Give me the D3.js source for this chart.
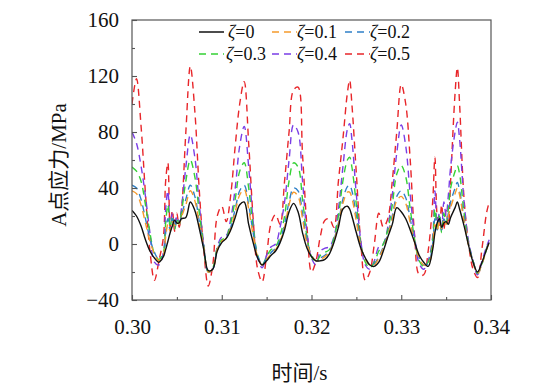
<!DOCTYPE html>
<html>
<head>
<meta charset="utf-8">
<script src="https://cdn.jsdelivr.net/npm/d3@7"></script>
<style>
  html, body { margin: 0; padding: 0; background: #fff; }
  svg text { font-family: "Liberation Serif", "Times New Roman", Times, "DejaVu Serif", "Noto Sans CJK SC", serif; fill: #111; }
</style>
</head>
<body>
<svg id="chart" width="534" height="390"></svg>
<script>
// ---- data (time in s, stress in MPa) ----
const time = [0.3000,0.3005,0.3010,0.3015,0.3020,0.3025,0.3030,0.3035,0.30375,0.3040,0.30425,0.3045,0.30475,0.3050,0.30525,0.3055,
  0.3060,0.3065,0.3070,0.3075,0.3080,0.3085,0.3090,0.3095,0.3100,0.3105,0.3110,0.3115,0.3120,0.3125,0.3130,0.3135,0.3140,0.3145,
  0.3150,0.3155,0.3160,0.3165,0.3170,0.3175,0.3180,0.3185,0.3190,0.3195,0.3200,0.3205,0.3210,0.3215,0.3220,0.3225,0.3230,0.3235,
  0.3240,0.32425,0.3245,0.3250,0.3255,0.3260,0.3265,0.3270,0.3275,0.3280,0.3285,0.3290,0.3295,0.3300,0.3305,0.3310,0.3315,0.3320,
  0.3325,0.3330,0.3335,0.33375,0.3340,0.33425,0.3345,0.33475,0.3350,0.33525,0.3355,0.3360,0.33625,0.3365,0.3370,0.3375,0.3380,
  0.3385,0.3390,0.3395,0.3398];

const zeta0 = [24,20,13,3,-5,-10,-13,-9,-4,2,8,13,17,15,15,18,
  19,30,24,11,-4,-19,-18,-5,1,4,10,19,28,30,14,1,-10,-15,
  -12,-8,-5,1,10,23,29,23,8,-3,-9,-12,-12,-11,-7,1,12,25,
  27,25,20,8,-3,-10,-15,-16,-13,-5,5,14,26,23,18,10,1,-8,
  -13,-16,-4,8,15,18,12,15,16,14,19,26,30,25,13,-1,-13,
  -20,-13,-4,1];
const zeta01 = [38,36,28,15,2,-7,-12,-8,5,14,9,16,13,16,14,19,
  28,38,31,14,-3,-20,-18,-4,2,4,11,23,35,39,25,6,-9,-15,
  -11,-7,-4,2,12,28,37,34,18,0,-8,-12,-11,-9,-6,2,14,29,
  37,37,33,16,-2,-11,-15,-15,-10,-3,6,18,31,34,29,15,1,-10,
  -15,-15,-2,14,9,17,11,16,14,20,26,36,40,35,16,-1,-13,
  -21,-14,-4,1];
const zeta02 = [42,40,32,18,4,-6,-11,-8,8,18,10,18,12,17,14,20,
  32,42,34,16,-3,-20,-18,-4,2,4,12,25,38,42,28,8,-8,-15,
  -10,-6,-3,3,14,30,40,38,22,2,-8,-12,-10,-8,-5,3,15,32,
  41,42,38,20,-1,-11,-15,-14,-9,-2,7,20,34,38,33,18,2,-10,
  -15,-14,0,18,10,18,10,18,15,22,30,40,44,38,18,0,-12,
  -21,-14,-3,2];
const zeta03 = [55,52,45,28,8,-7,-11,-6,15,28,12,20,10,18,14,22,
  45,60,48,22,-2,-20,-17,-3,3,5,15,32,52,58,40,12,-8,-15,
  -9,-4,-2,6,20,45,58,55,32,5,-9,-13,-8,-6,-4,4,20,45,
  60,62,55,28,0,-13,-17,-13,-5,0,10,28,50,56,48,25,3,-12,
  -16,-13,2,25,12,20,8,22,15,25,40,52,56,50,22,0,-12,
  -21,-14,-4,1];
const zeta04 = [80,72,56,34,8,-13,-15,-6,25,38,14,22,12,20,15,25,
  55,78,62,28,0,-20,-18,-2,5,6,18,40,70,84,55,16,-10,-17,
  -8,-2,0,12,30,60,85,80,45,8,-10,-15,-5,-3,-2,5,25,55,
  82,86,75,35,2,-15,-18,-12,-2,0,12,35,65,85,70,35,5,-14,
  -18,-12,5,38,15,22,10,30,20,35,55,80,87,75,30,2,-12,
  -22,-12,-2,3];
const zeta05 = [100,118,85,36,-5,-26,-12,5,45,58,12,24,9,22,12,22,
  80,127,95,38,-5,-30,-15,20,27,16,35,70,100,116,72,18,-18,-27,
  -8,15,21,14,45,80,110,112,64,12,-20,-12,6,17,18,12,45,75,
  108,117,100,50,0,-26,-20,0,22,12,18,45,80,114,100,60,5,-22,
  -22,-5,30,62,20,12,28,10,24,14,45,108,126,100,32,0,-18,
  -24,-3,22,30];

const seriesNames = ["\u03B6=0","\u03B6=0.1","\u03B6=0.2","\u03B6=0.3","\u03B6=0.4","\u03B6=0.5"];
const xTicks = [0.30,0.31,0.32,0.33,0.34];
const xMinor = [0.305,0.315,0.325,0.335];
const yTicks = [-40,0,40,80,120,160];
const yMinor = [-20,20,60,100,140];

// ---- layout ----
const FONT = '"Liberation Serif", "Times New Roman", Times, "DejaVu Serif", "Noto Sans CJK SC", serif';
const svg = d3.select("#chart");
const L = 132, R = 491, T = 20, B = 300;
const x = d3.scaleLinear().domain([0.30, 0.34]).range([L, R]);
const y = d3.scaleLinear().domain([-40, 160]).range([B, T]);

const series = [
  {name: seriesNames[5], values: zeta05, color: "#e8262a", dash: "7,5"},
  {name: seriesNames[4], values: zeta04, color: "#7a3ee6", dash: "7,5"},
  {name: seriesNames[3], values: zeta03, color: "#35d135", dash: "7,5"},
  {name: seriesNames[2], values: zeta02, color: "#2f80c8", dash: "7,5"},
  {name: seriesNames[1], values: zeta01, color: "#f59a2c", dash: "7,5"},
  {name: seriesNames[0], values: zeta0,  color: "#111111", dash: null}
];

svg.append("defs").append("clipPath").attr("id", "clip")
  .append("rect").attr("x", L).attr("y", T).attr("width", R - L).attr("height", B - T);

const line = d3.line()
  .x((d, i) => x(time[i]))
  .y(d => y(d))
  .curve(d3.curveCatmullRom.alpha(0.5));

const gLines = svg.append("g").attr("clip-path", "url(#clip)");
series.forEach(s => {
  gLines.append("path")
    .datum(s.values)
    .attr("d", line)
    .attr("fill", "none")
    .attr("stroke", s.color)
    .attr("stroke-width", 1.4)
    .attr("stroke-dasharray", s.dash);
});

// frame
svg.append("rect").attr("x", L).attr("y", T).attr("width", R - L).attr("height", B - T)
  .attr("fill", "none").attr("stroke", "#555").attr("stroke-width", 1.2);

// axes
const fontSize = 21;
const xAxis = svg.append("g").attr("transform", `translate(0,${B})`)
  .call(d3.axisBottom(x).tickValues(xTicks).tickSize(-5).tickPadding(19).tickFormat(d3.format(".2f")));
const xAxisMinor = svg.append("g").attr("transform", `translate(0,${B})`)
  .call(d3.axisBottom(x).tickValues(xMinor).tickSize(-3).tickFormat(""));
const yAxis = svg.append("g").attr("transform", `translate(${L},0)`)
  .call(d3.axisLeft(y).tickValues(yTicks).tickSize(-5).tickPadding(13));
const yAxisMinor = svg.append("g").attr("transform", `translate(${L},0)`)
  .call(d3.axisLeft(y).tickValues(yMinor).tickSize(-3).tickFormat(""));

[xAxis, xAxisMinor, yAxis, yAxisMinor].forEach(g => {
  g.attr("font-family", null);
  g.select(".domain").remove();
  g.selectAll(".tick line").attr("stroke", "#555").attr("stroke-width", 1.1);
  g.selectAll(".tick text")
    .style("font-family", FONT)
    .style("font-size", fontSize + "px")
    .attr("fill", "#111");
});
xAxis.selectAll(".tick text").attr("dy", "0.7em").attr("y", 19);

// axis titles
svg.append("text")
  .attr("x", (L + R) / 2 - 12).attr("y", 380)
  .attr("text-anchor", "middle")
  .style("font-family", FONT)
  .style("font-size", "21px")
  .text("时间/s");
svg.append("text")
  .attr("transform", `translate(66,${(T + B) / 2 + 5}) rotate(-90)`)
  .attr("text-anchor", "middle")
  .style("font-family", FONT)
  .style("font-size", "21px")
  .text("A点应力/MPa");

// legend
const legendItems = [
  {s: series[5], lx: 199, tx: 228, ly: 32},
  {s: series[4], lx: 272, tx: 297, ly: 32},
  {s: series[3], lx: 345, tx: 370, ly: 32},
  {s: series[2], lx: 199, tx: 226, ly: 54},
  {s: series[1], lx: 272, tx: 297, ly: 54},
  {s: series[0], lx: 345, tx: 370, ly: 54}
];
const gLeg = svg.append("g");
legendItems.forEach(it => {
  gLeg.append("line")
    .attr("x1", it.lx).attr("x2", it.lx + 25)
    .attr("y1", it.ly).attr("y2", it.ly)
    .attr("stroke", it.s.color).attr("stroke-width", 1.5)
    .attr("stroke-dasharray", it.s.dash);
  const t = gLeg.append("text").attr("x", it.tx).attr("y", it.ly + 6)
    .style("font-family", FONT).style("font-size", "18px");
  const parts = it.s.name.split("=");
  t.append("tspan").style("font-style", "italic").text(parts[0]);
  t.append("tspan").text("=" + parts[1]);
});
</script>
</body>
</html>
